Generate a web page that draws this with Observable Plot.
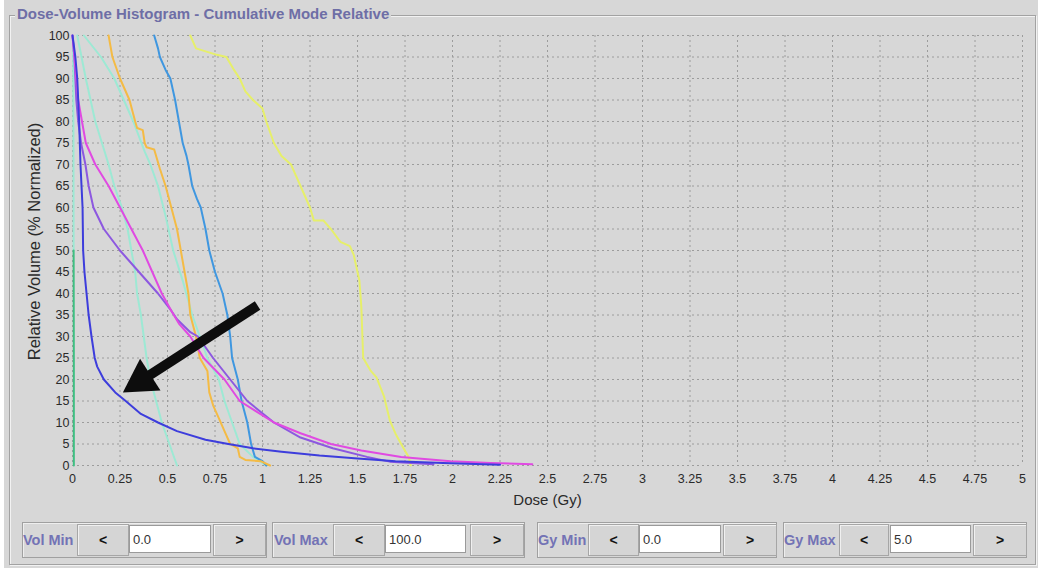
<!DOCTYPE html>
<html><head><meta charset="utf-8">
<script src="https://cdn.jsdelivr.net/npm/d3@7"></script>
<script src="https://cdn.jsdelivr.net/npm/@observablehq/plot@0.6"></script>
<style>
html,body{margin:0;padding:0;background:#fff;}
body{position:relative;width:1050px;height:576px;overflow:hidden;font-family:"Liberation Sans",Arial,sans-serif;}
#panel{position:absolute;left:4px;top:0;width:1034px;height:568px;background:#d7d7d7;}
#border{position:absolute;left:9px;top:15px;width:1025px;height:548px;border:1px solid #a2a2a2;box-shadow:1px 1px 0 #f2f2f2, inset 1px 1px 0 #f2f2f2;}
#title{position:absolute;left:15px;top:5px;padding:0 2px;background:#d7d7d7;color:#6e6ea6;font-weight:bold;font-size:15px;white-space:nowrap;}
#chart{position:absolute;left:0;top:0;}
.grp{position:absolute;top:522px;height:34px;border:1px solid #a0a0a0;box-shadow:inset 1px 1px 0 #eee;}
.lbl{position:absolute;top:0;height:34px;line-height:34px;color:#7373b5;font-weight:bold;font-size:14.5px;white-space:nowrap;}
.btn{position:absolute;top:1px;height:30px;line-height:30px;border:1px solid #a6a6a6;background:#d5d5d5;text-align:center;font-weight:bold;font-size:14px;color:#111;box-shadow:inset 1px 1px 0 #f0f0f0;}
.fld{position:absolute;top:2px;height:28px;line-height:28px;border:1px solid #9a9a9a;background:#fff;font-size:13px;color:#333;padding-left:3px;box-sizing:border-box;}
</style>
</head><body>
<div id="panel"></div>
<div id="border"></div>
<div id="title">Dose-Volume Histogram - Cumulative Mode Relative</div>
<div id="chart"></div>
<div id="controls"></div>
<script>
// ---- data (dose in Gy, relative volume in %) ----
const xTickValues = [0,0.25,0.5,0.75,1,1.25,1.5,1.75,2,2.25,2.5,2.75,3,3.25,3.5,3.75,4,4.25,4.5,4.75,5];
const xTickLabels = ["0","0.25","0.5","0.75","1","1.25","1.5","1.75","2","2.25","2.5","2.75","3","3.25","3.5","3.75","4","4.25","4.5","4.75","5"];
const yTickValues = [0,5,10,15,20,25,30,35,40,45,50,55,60,65,70,75,80,85,90,95,100];

const paleEdgeCurve = [[0.003,100],[0.005,75],[0.006,50]];
const greenCurve = [[0.006,50],[0.007,25],[0.007,0]];
const cyanCurve1 = [[0.025,100],[0.07,90],[0.12,80],[0.19,70],[0.22,65],[0.26,60],[0.29,55],[0.31,50],[0.33,45],[0.34,40],[0.36,35],[0.375,30],[0.39,25],[0.41,20],[0.44,15],[0.47,10],[0.51,5],[0.55,0]];
const cyanCurve2 = [[0.06,100],[0.15,95],[0.22,90],[0.27,85],[0.32,80],[0.38,73],[0.41,70],[0.45,65],[0.49,58],[0.53,50],[0.58,43],[0.63,35],[0.67,30],[0.71,25],[0.77,20],[0.8,15],[0.84,10],[0.88,5],[0.95,2],[1.02,0]];
const yellowCurve = [[0.62,100],[0.65,97],[0.76,95.5],[0.81,95],[0.85,92],[0.88,90],[0.91,87],[0.95,85],[1.0,83],[1.02,80],[1.06,75],[1.1,72],[1.15,70],[1.17,68],[1.2,65],[1.25,60],[1.27,57],[1.32,57],[1.36,55],[1.41,52],[1.46,51],[1.48,49],[1.51,43],[1.52,37],[1.53,25],[1.57,22],[1.6,20.5],[1.64,16],[1.67,10.5],[1.7,7.4],[1.74,4.2],[1.77,1.9],[1.78,0]];
const blueCurve = [[0.43,100],[0.45,97],[0.46,95],[0.49,92],[0.515,90],[0.54,85],[0.56,80],[0.58,75],[0.6,72],[0.61,70],[0.63,65],[0.655,62],[0.675,60],[0.7,55],[0.72,50],[0.75,45],[0.79,40],[0.815,35],[0.83,30],[0.84,25],[0.87,20],[0.89,15],[0.92,10],[0.94,5],[0.96,2],[1.0,1],[1.02,0]];
const orangeCurve = [[0.19,100],[0.21,95],[0.25,90],[0.3,85],[0.33,80],[0.34,78.5],[0.37,78],[0.38,75],[0.39,74],[0.43,73.5],[0.46,69],[0.49,65],[0.52,60],[0.55,55],[0.57,50],[0.59,45],[0.61,40],[0.62,35],[0.65,30],[0.67,25],[0.71,22],[0.72,17],[0.74,14],[0.77,11],[0.8,8],[0.83,5],[0.87,4],[0.88,2],[0.91,1.3],[0.99,1],[1.04,0]];
const purpleCurve = [[0,100],[0.01,95],[0.015,90],[0.02,85],[0.03,80],[0.045,75],[0.068,70],[0.085,65],[0.11,60],[0.165,55],[0.25,50],[0.35,45],[0.45,40],[0.52,36],[0.55,34],[0.62,31],[0.66,30],[0.74,25],[0.83,20],[0.92,15],[1.06,10],[1.2,6.5],[1.37,4],[1.55,2],[1.67,0.9],[1.9,0.3]];
const magentaCurve = [[0,100],[0.01,95],[0.02,90],[0.03,85],[0.05,80],[0.07,75],[0.12,70],[0.19,65],[0.25,60],[0.31,55],[0.37,50],[0.42,45],[0.47,40],[0.52,36],[0.56,33],[0.62,30],[0.69,25],[0.8,20],[0.88,15],[1.06,10],[1.2,7.5],[1.36,5],[1.52,3.5],[1.73,2],[1.99,1],[2.2,0.6],[2.42,0.3]];
const darkBlueCurve = [[0,100],[0.015,95],[0.025,90],[0.035,80],[0.042,70],[0.053,60],[0.056,50],[0.063,45],[0.074,40],[0.085,35],[0.1,30],[0.117,25],[0.13,23],[0.165,20],[0.225,17],[0.28,15],[0.36,12],[0.45,10],[0.55,8],[0.7,6],[0.82,5],[0.95,4],[1.1,3.2],[1.3,2.3],[1.5,1.6],[1.7,1],[1.95,0.6],[2.25,0.2]];

const curveNames = ["paleEdge","green","cyan1","cyan2","yellow","blue","orange","purple","magenta","darkBlue"];
const curveData = [paleEdgeCurve,greenCurve,cyanCurve1,cyanCurve2,yellowCurve,blueCurve,orangeCurve,purpleCurve,magentaCurve,darkBlueCurve];
const curveColors = ["#9de9d4","#3fbf82","#9de9d4","#9de9d4","#e6ef6a","#3f97e0","#f4bb45","#8d58e0","#e04ae2","#3d3ddc"];

const arrowTail = [0.974, 37.2];
const arrowTip = [0.265, 17.0];

// ---- layout ----
const W = 1050, H = 510, mL = 72, mR = 28, mT = 35, mB = 45;
const xDom = [0,5], yDom = [0,100];
const kx = (W - mL - mR) / (xDom[1] - xDom[0]);
const ky = (H - mT - mB) / (yDom[1] - yDom[0]);

// arrow head geometry (pixel space -> data space)
const headR = 14;
const area = Math.PI * headR * headR;
const hy = Math.sqrt(area / (3 * Math.sqrt(3)));
const dxp = (arrowTip[0] - arrowTail[0]) * kx;
const dyp = -(arrowTip[1] - arrowTail[1]) * ky;
const len = Math.hypot(dxp, dyp);
const ux = dxp / len, uy = dyp / len;
const headCenter = [arrowTip[0] - ux * 2 * hy / kx, arrowTip[1] + uy * 2 * hy / ky];
const shaftEnd = [arrowTip[0] - ux * (3 * hy - 3) / kx, arrowTip[1] + uy * (3 * hy - 3) / ky];
const headAngle = Math.atan2(ux, -uy) * 180 / Math.PI;

const gridStyle = {stroke: "#9c9c9c", strokeOpacity: 1, strokeDasharray: "2,3", strokeWidth: 1};

const lineMarks = curveData.map((c, i) => Plot.line(c, {x: d => d[0], y: d => d[1], stroke: curveColors[i], strokeWidth: 2}));

const chart = Plot.plot({
  width: W, height: H,
  marginLeft: mL, marginRight: mR, marginTop: mT, marginBottom: mB,
  style: {background: "transparent", fontFamily: "'Liberation Sans', Arial, sans-serif", fontSize: "12.5px", color: "#2a2a2a", overflow: "visible"},
  x: {domain: xDom},
  y: {domain: yDom},
  marks: [
    Plot.gridX(xTickValues, gridStyle),
    Plot.gridY(yTickValues, gridStyle),
    Plot.axisX(xTickValues, {tickSize: 0, tickPadding: 9, tickFormat: (d, i) => xTickLabels[i], label: null}),
    Plot.axisY(yTickValues, {tickSize: 0, tickPadding: 3, tickFormat: d => String(d), label: null}),
    ...lineMarks,
    Plot.link([0], {x1: () => arrowTail[0], y1: () => arrowTail[1], x2: () => shaftEnd[0], y2: () => shaftEnd[1], stroke: "#0d0d0d", strokeWidth: 10, strokeLinecap: "butt"}),
    Plot.dot([0], {x: () => headCenter[0], y: () => headCenter[1], symbol: "triangle", r: headR, fill: "#0d0d0d", stroke: "none", rotate: headAngle}),
    Plot.text(["Relative Volume (% Normalized)"], {frameAnchor: "left", dx: -38, dy: -9, rotate: -90, textAnchor: "middle", lineAnchor: "middle", fontSize: 16.5, fill: "#2a2a2a"}),
    Plot.text(["Dose (Gy)"], {frameAnchor: "bottom", dy: 35, textAnchor: "middle", lineAnchor: "middle", fontSize: 15, fill: "#2a2a2a"})
  ]
});
document.getElementById("chart").appendChild(chart);

// ---- controls ----
const controlLabels = ["Vol Min","Vol Max","Gy Min","Gy Max"];
const controlValues = ["0.0","100.0","0.0","5.0"];
const controlLayout = [
  {g:[22,243], l:0, b1:[54,50], f:[106,82], b2:[190,51]},
  {g:[272,251], l:1, b1:[60,50], f:[112,81], b2:[197,52]},
  {g:[537,238], l:0, b1:[50,49], f:[101,82], b2:[185,52]},
  {g:[783,242], l:0, b1:[55,48], f:[106,81], b2:[189,52]}
];
const controls = document.getElementById("controls");
controlLayout.forEach((c, i) => {
  const g = document.createElement("div");
  g.className = "grp";
  g.style.left = c.g[0] + "px"; g.style.width = c.g[1] + "px";
  g.innerHTML =
    `<div class="lbl" style="left:${c.l}px">${controlLabels[i]}</div>` +
    `<div class="btn" style="left:${c.b1[0]}px;width:${c.b1[1]}px">&lt;</div>` +
    `<div class="fld" style="left:${c.f[0]}px;width:${c.f[1]}px">${controlValues[i]}</div>` +
    `<div class="btn" style="left:${c.b2[0]}px;width:${c.b2[1]}px">&gt;</div>`;
  controls.appendChild(g);
});
</script>
</body></html>
